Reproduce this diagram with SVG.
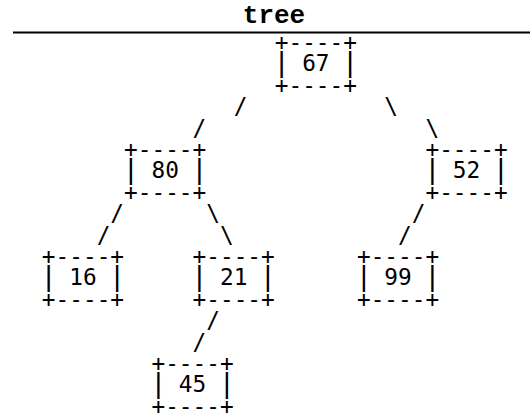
<svg xmlns="http://www.w3.org/2000/svg" width="530" height="419" viewBox="0 0 530 419" xml:space="preserve">
<style>
.m{font-family:"DejaVu Sans Mono","Liberation Mono",monospace;font-size:22.76px;fill:#000;white-space:pre}
.b{font-size:27px}
.t{font-family:"Liberation Mono","Courier New",monospace;font-size:26px;font-weight:bold;fill:#000}
</style>
<rect width="530" height="419" fill="#fff"/>
<text class="t" x="274" y="23" text-anchor="middle">tree</text>
<line x1="13" y1="32.5" x2="530" y2="32.5" stroke="#000" stroke-width="2"/>
<g id="connectors" class="m">
<text x="233.65" y="114.2">/</text>
<text x="384.35" y="114.2">\</text>
<text x="192.55" y="135.6">/</text>
<text x="425.45" y="135.6">\</text>
<text x="110.35" y="221.2">/</text>
<text x="206.25" y="221.2">\</text>
<text x="411.75" y="221.2">/</text>
<text x="96.65" y="242.6">/</text>
<text x="219.95" y="242.6">\</text>
<text x="398.05" y="242.6">/</text>
<text x="206.25" y="328.2">/</text>
<text x="192.55" y="349.6">/</text>
</g>
<g id="n67" class="m">
<text x="274.75" y="50">+----+</text>
<text x="274.75" y="71.4"><tspan class="b" dx="-1.28">|</tspan><tspan dx="-1.28"> 67 </tspan><tspan class="b" dx="-1.28">|</tspan></text>
<text x="274.75" y="92.8">+----+</text>
</g>
<g id="n80" class="m">
<text x="124.05" y="157">+----+</text>
<text x="124.05" y="178.4"><tspan class="b" dx="-1.28">|</tspan><tspan dx="-1.28"> 80 </tspan><tspan class="b" dx="-1.28">|</tspan></text>
<text x="124.05" y="199.8">+----+</text>
</g>
<g id="n52" class="m">
<text x="425.45" y="157">+----+</text>
<text x="425.45" y="178.4"><tspan class="b" dx="-1.28">|</tspan><tspan dx="-1.28"> 52 </tspan><tspan class="b" dx="-1.28">|</tspan></text>
<text x="425.45" y="199.8">+----+</text>
</g>
<g id="n16" class="m">
<text x="41.85" y="264">+----+</text>
<text x="41.85" y="285.4"><tspan class="b" dx="-1.28">|</tspan><tspan dx="-1.28"> 16 </tspan><tspan class="b" dx="-1.28">|</tspan></text>
<text x="41.85" y="306.8">+----+</text>
</g>
<g id="n21" class="m">
<text x="192.55" y="264">+----+</text>
<text x="192.55" y="285.4"><tspan class="b" dx="-1.28">|</tspan><tspan dx="-1.28"> 21 </tspan><tspan class="b" dx="-1.28">|</tspan></text>
<text x="192.55" y="306.8">+----+</text>
</g>
<g id="n99" class="m">
<text x="356.95" y="264">+----+</text>
<text x="356.95" y="285.4"><tspan class="b" dx="-1.28">|</tspan><tspan dx="-1.28"> 99 </tspan><tspan class="b" dx="-1.28">|</tspan></text>
<text x="356.95" y="306.8">+----+</text>
</g>
<g id="n45" class="m">
<text x="151.45" y="371">+----+</text>
<text x="151.45" y="392.4"><tspan class="b" dx="-1.28">|</tspan><tspan dx="-1.28"> 45 </tspan><tspan class="b" dx="-1.28">|</tspan></text>
<text x="151.45" y="413.8">+----+</text>
</g>
</svg>
